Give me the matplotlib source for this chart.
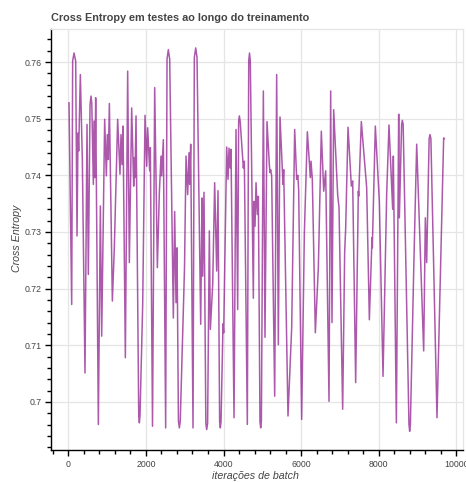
import numpy as np
import matplotlib
matplotlib.use("Agg")
import matplotlib.pyplot as plt
from matplotlib.ticker import MultipleLocator, FuncFormatter

# batch iteration and test cross entropy
iteracoes = [
    18, 87, 112, 147, 190, 224, 250, 267, 310, 362, 430, 482, 516, 560, 585, 605,
    645, 662, 688, 705, 774, 826, 860, 937, 980, 1006, 1032, 1058, 1135, 1186,
    1272, 1332, 1358, 1384, 1410, 1470, 1530, 1573, 1633, 1685, 1702, 1719, 1745,
    1815, 1831, 1847, 1917, 1977, 2020, 2045, 2097, 2114, 2170, 2226, 2295, 2346,
    2389, 2406, 2449, 2509, 2544, 2578, 2613, 2707, 2741, 2776, 2802, 2838, 2862,
    2885, 2982, 2995, 3034, 3076, 3111, 3128, 3154, 3214, 3248, 3283, 3317, 3412,
    3446, 3463, 3497, 3545, 3566, 3590, 3635, 3661, 3721, 3772, 3824, 3858, 3900,
    3918, 3936, 3987, 4004, 4082, 4116, 4142, 4168, 4193, 4271, 4322, 4365, 4390,
    4408, 4430, 4477, 4511, 4537, 4614, 4650, 4670, 4690, 4769, 4786, 4812, 4838,
    4872, 4898, 4940, 4958, 4976, 5027, 5069, 5121, 5181, 5198, 5215, 5241, 5319,
    5370, 5413, 5456, 5533, 5551, 5662, 5757, 5834, 5886, 5915, 5937, 6014, 6083,
    6161, 6238, 6255, 6289, 6367, 6444, 6521, 6582, 6633, 6719, 6762, 6796, 6839,
    6942, 6977, 7071, 7123, 7149, 7209, 7295, 7329, 7406, 7475, 7484, 7552, 7690,
    7759, 7827, 7835, 7913, 8016, 8111, 8205, 8265, 8360, 8377, 8455, 8515, 8532,
    8590, 8609, 8630, 8780, 8798, 8816, 8910, 8979, 9159, 9202, 9236, 9300, 9322,
    9345, 9502, 9674, 9692,
]
cross_entropy = [
    0.7528, 0.7172, 0.7602, 0.7616, 0.7602, 0.7293, 0.7475, 0.7443, 0.7578, 0.7425,
    0.7051, 0.7490, 0.7225, 0.7525, 0.7540, 0.7527, 0.7384, 0.7496, 0.7396, 0.7537,
    0.6960, 0.7346, 0.7116, 0.7499, 0.7399, 0.7472, 0.7428, 0.7527, 0.7178, 0.7272,
    0.7499, 0.7402, 0.7472, 0.7419, 0.7487, 0.7078, 0.7584, 0.7246, 0.7519, 0.7381,
    0.7431, 0.7396, 0.7505, 0.6975, 0.6963, 0.6975, 0.7172, 0.7506, 0.7416, 0.7484,
    0.7408, 0.7449, 0.6957, 0.7555, 0.7237, 0.7369, 0.7434, 0.7399, 0.7463, 0.6954,
    0.7605, 0.7622, 0.7605, 0.7148, 0.7336, 0.7175, 0.7272, 0.6966, 0.6954, 0.6966,
    0.7204, 0.7237, 0.7434, 0.7366, 0.7440, 0.7384, 0.7455, 0.6954, 0.7608, 0.7625,
    0.7608, 0.7137, 0.7360, 0.7222, 0.7370, 0.6962, 0.6951, 0.6962, 0.7302, 0.7128,
    0.7207, 0.7387, 0.7231, 0.7373, 0.6965, 0.6954, 0.6965, 0.7138, 0.7122, 0.7450,
    0.7393, 0.7448, 0.7413, 0.7446, 0.6972, 0.7481, 0.7163, 0.7495, 0.7505, 0.7495,
    0.7446, 0.7413, 0.7425, 0.6960, 0.7602, 0.7616, 0.7602, 0.7183, 0.7354, 0.7310,
    0.7387, 0.7331, 0.7363, 0.6965, 0.6954, 0.6965, 0.7549, 0.7114, 0.7495, 0.7419,
    0.7405, 0.7410, 0.7399, 0.7010, 0.7578, 0.7101, 0.7503, 0.7384, 0.7410, 0.6975,
    0.7131, 0.7481, 0.7393, 0.7400, 0.7375, 0.6969, 0.7296, 0.7477, 0.7396, 0.7425,
    0.7393, 0.7122, 0.7237, 0.7478, 0.7372, 0.7408, 0.7001, 0.7549, 0.7140, 0.7516,
    0.7366, 0.7343, 0.6987, 0.7266, 0.7307, 0.7485, 0.7381, 0.7390, 0.7034, 0.7372,
    0.7363, 0.7495, 0.7378, 0.7145, 0.7290, 0.7272, 0.7487, 0.7354, 0.7045, 0.7366,
    0.7489, 0.7340, 0.7434, 0.6963, 0.7508, 0.7325, 0.7490, 0.7497, 0.7490, 0.6960,
    0.6948, 0.6960, 0.7257, 0.7455, 0.7090, 0.7325, 0.7246, 0.7465, 0.7472, 0.7465,
    0.6972, 0.7466, 0.7465,
]

plt.rcParams['font.family'] = ['Liberation Sans', 'DejaVu Sans']
cinza = '#444444'

fig = plt.figure(figsize=(4.66, 4.82), dpi=100)
ax = fig.add_axes([0.1088, 0.0664, 0.8848, 0.8741])

ax.plot(iteracoes, cross_entropy, color='#800080', alpha=0.65, linewidth=1.1)

ax.set_xlim(-454, 10173)
ax.set_ylim(0.6915, 0.7659)

ax.xaxis.set_major_locator(MultipleLocator(2000))
ax.xaxis.set_minor_locator(MultipleLocator(400))
ax.yaxis.set_major_locator(MultipleLocator(0.01))
ax.yaxis.set_minor_locator(MultipleLocator(0.002))
ax.yaxis.set_major_formatter(FuncFormatter(lambda v, p: ('%.2f' % v).rstrip('0')))
ax.xaxis.set_major_formatter(FuncFormatter(lambda v, p: '%d' % v))

ax.grid(True, which='major', color='#e5e5e5', linewidth=0.9)
ax.set_axisbelow(True)
for lado in ['top', 'right']:
    ax.spines[lado].set_color('#e5e5e5')
    ax.spines[lado].set_linewidth(0.9)
for lado in ['left', 'bottom']:
    ax.spines[lado].set_color('black')
    ax.spines[lado].set_linewidth(1.0)

ax.tick_params(which='major', direction='out', length=4.3, width=1, color='black',
               labelsize=6.3, labelcolor=cinza)
ax.tick_params(axis='y', which='major', pad=2)
ax.tick_params(axis='x', which='major', pad=3)
ax.tick_params(which='minor', direction='out', length=2.9, width=1, color='black')

fig.text(0.1088, 0.9554, 'Cross Entropy em testes ao longo do treinamento',
         fontsize=7.8, fontweight='bold', color=cinza, va='baseline', ha='left')
fig.text(0.548, 0.0062, 'iterações de batch', fontstyle='italic', fontsize=7.7,
         color=cinza, va='baseline', ha='center')
fig.text(0.0365, 0.506, 'Cross Entropy', fontstyle='italic', fontsize=7.7,
         color=cinza, va='center', ha='center', rotation=90)

fig.savefig('out.png', dpi=100)
